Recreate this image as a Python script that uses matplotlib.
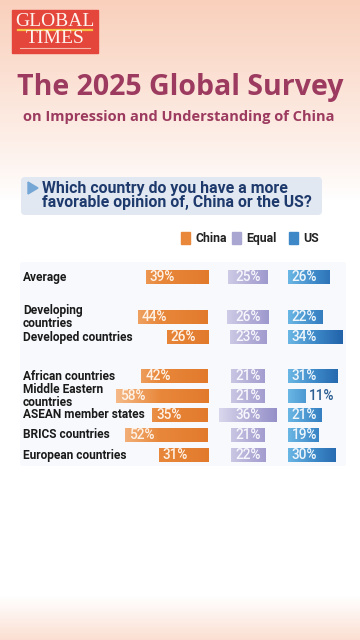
import matplotlib
matplotlib.use("Agg")
import matplotlib.pyplot as plt
import numpy as np
from matplotlib.colors import LinearSegmentedColormap
from matplotlib.patches import FancyBboxPatch, Rectangle, Polygon

# ---- data ----
groups = ["Average", "Developing\ncountries", "Developed countries",
          "African countries", "Middle Eastern\ncountries", "ASEAN member states",
          "BRICS countries", "European countries"]
china = [39, 44, 26, 42, 58, 35, 52, 31]
equal = [25, 26, 23, 21, 21, 36, 21, 22]
us = [26, 22, 34, 31, 11, 21, 19, 30]
legend_labels = ["China", "Equal", "US"]

# layout (pixel rows, % offsets)
row_y = [277, 317, 337, 376, 396, 415, 435, 455]
px_per_pct = 1.59
china_end_px = 208
equal_mid = 25.2
us_start = 50.3
bar_h = 14

W, H = 360, 640
fig = plt.figure(figsize=(3.6, 6.4), dpi=100)

# background / decoration axes in pixel coords
bg = fig.add_axes([0, 0, 1, 1])
bg.set_xlim(0, W)
bg.set_ylim(H, 0)
bg.axis("off")

grad = np.ones((H, 1, 3))
top = np.array([249, 208, 188]) / 255
bot = np.array([251, 222, 208]) / 255
for i in range(H):
    if i < 200:
        t = (1 - i / 200) ** 0.9
        grad[i, 0] = top * t + (1 - t)
    elif i > 595:
        t = ((i - 595) / 45) ** 1.1
        grad[i, 0] = bot * t + (1 - t)
bg.imshow(grad, extent=(0, W, H, 0), aspect="auto", zorder=0)

# logo
bg.add_patch(Rectangle((12, 10), 86, 43, color="#e4463c", zorder=2))
bg.text(55, 22, "GLOBAL", color="#fdf2ec", fontsize=14, family="Liberation Serif",
        ha="center", va="center", zorder=3)
bg.plot([18, 92], [30, 30], color="#f5c341", lw=1.6, zorder=3)
bg.text(55, 38.5, "TIMES", color="#fdf2ec", fontsize=14, family="Liberation Serif",
        ha="center", va="center", zorder=3)
bg.plot([20, 90], [47.5, 47.5], color="#f4b7a8", lw=0.8, zorder=3)

# title
bg.text(180, 88, "The 2025 Global Survey", color="#9c3b5f", fontsize=20.5,
        family="Open Sans", weight="bold", ha="center", va="center")
bg.text(179, 117, "on Impression and Understanding of China", color="#9c3b5f",
        fontsize=10.5, family="Open Sans", weight="bold", ha="center", va="center")

# question box
bg.add_patch(FancyBboxPatch((21, 177), 301, 38, boxstyle="round,pad=0,rounding_size=4",
                            fc="#e2e8f1", ec="none", zorder=2))
bg.add_patch(Polygon([[28, 182], [28, 194], [38, 188]], closed=True,
                     color="#74a6d6", zorder=3))
bg.text(42, 188, "Which country do you have a more", color="#1e3a6d", fontsize=11.4,
        family="Roboto", weight="bold", ha="left", va="center", zorder=3)
bg.text(42, 203, "favorable opinion of, China or the US?", color="#1e3a6d", fontsize=11.4,
        family="Roboto", weight="bold", ha="left", va="center", zorder=3)

# faint panel behind rows
bg.add_patch(FancyBboxPatch((20, 262), 326, 204, boxstyle="round,pad=0,rounding_size=3",
                            fc="#f7f9fc", ec="none", zorder=1))

# legend
leg_colors = ["#e9883b", "#aaa6d2", "#3f88c8"]
leg_x = [181, 232, 289]
for lab, c, x in zip(legend_labels, leg_colors, leg_x):
    bg.add_patch(Rectangle((x, 232), 9, 12, color=c, zorder=2))
    bg.text(x + 14, 238.5, lab, fontsize=8.8, family="Roboto", weight="bold",
            color="#222222", ha="left", va="center")

# row labels
for g, y in zip(groups, row_y):
    bg.text(23, y, g, fontsize=8.6, family="Roboto", weight="bold", color="#1a1a1a",
            ha="left", va="center", linespacing=0.92)

# ---- bar axes: x in percent, y in pixels ----
ax = fig.add_axes([0, 0, 1, 1], facecolor="none")
ax.set_xlim(-china_end_px / px_per_pct, (W - china_end_px) / px_per_pct)
ax.set_ylim(H, 0)
ax.axis("off")

cm_china = LinearSegmentedColormap.from_list("c", ["#f6be8e", "#e8873a", "#e27a2c"])
cm_equal = LinearSegmentedColormap.from_list("e", ["#dcdaee", "#b4b0d8", "#958fc8"])
cm_us = LinearSegmentedColormap.from_list("u", ["#6ab6e4", "#3b86c6", "#1f5ea6"])
ramp = np.linspace(0, 1, 256)[None, :]


def grad_bars(bars, cmap, x0, x1):
    for b in bars:
        im = ax.imshow(ramp, cmap=cmap, extent=(x0, x1, b.get_y() + b.get_height(), b.get_y()),
                       aspect="auto", zorder=3)
        im.set_clip_path(b)
        b.set_alpha(0)


cb = ax.barh(row_y, china, left=[-v for v in china], height=bar_h, zorder=2)
grad_bars(cb, cm_china, -60, 0)
eb = ax.barh(row_y, equal, left=[equal_mid - v / 2 for v in equal], height=bar_h, zorder=2)
grad_bars(eb, cm_equal, 6, 44)
ub = ax.barh(row_y, us, left=us_start, height=bar_h, zorder=2)
grad_bars(ub, cm_us, us_start, us_start + 36)

pad = 4 / px_per_pct
lab_kw = dict(fontsize=9.8, family="Roboto", weight="medium", va="center", zorder=4)
for y, c, e, u in zip(row_y, china, equal, us):
    ax.text(-c + pad, y, f"{c}%", color="#fdf1e6", ha="left", **lab_kw)
    ax.text(equal_mid, y, f"{e}%", color="#f7f6fc", ha="center", **lab_kw)
    if u < 15:
        ax.text(us_start + u + 2, y, f"{u}%", color="#2a5d92", ha="left", **lab_kw)
    else:
        ax.text(us_start + pad, y, f"{u}%", color="#eef6fc", ha="left", **lab_kw)

fig.savefig("out.png", dpi=100)
